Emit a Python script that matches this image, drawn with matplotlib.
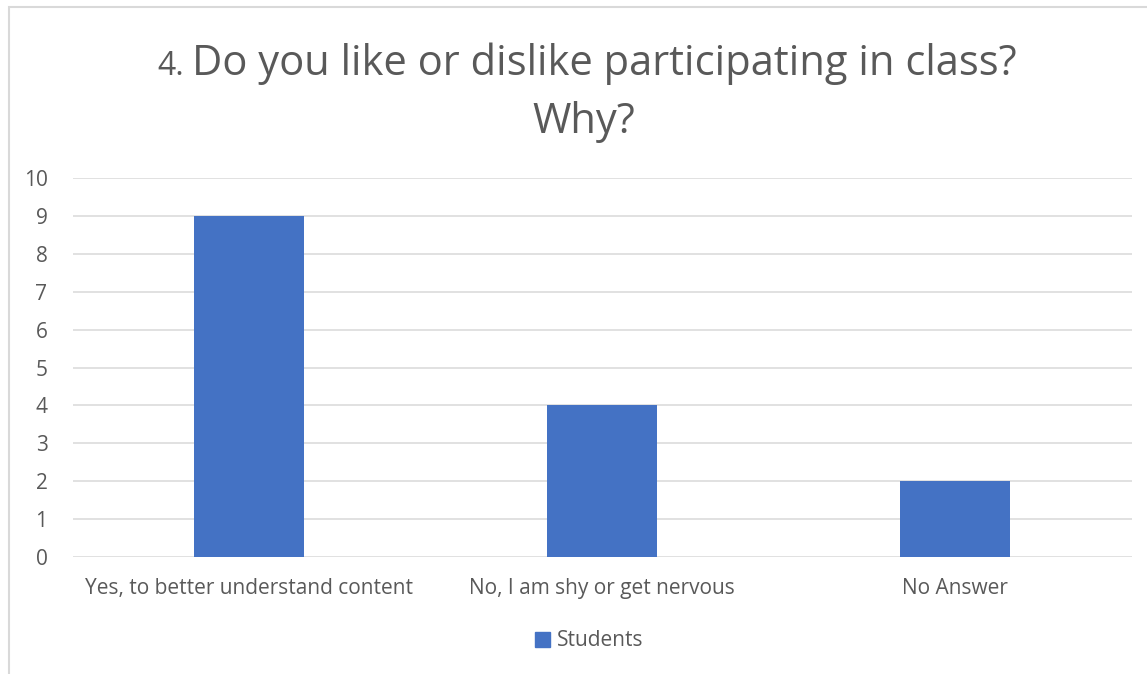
import matplotlib
matplotlib.use('Agg')
from matplotlib import pyplot as plt
from matplotlib.patches import Rectangle, Patch

plt.rcParams['font.family'] = ['Open Sans', 'DejaVu Sans']

# Survey answers: Do you like or dislike participating in class?
categories = ['Yes, to better understand content', 'No, I am shy or get nervous', 'No Answer']
students = [9, 4, 2]
y_ticks = [0, 1, 2, 3, 4, 5, 6, 7, 8, 9, 10]

W, H = 1147, 674
text_col = '#595959'
grid_col = '#D9D9D9'
bar_col = '#4472C4'

fig = plt.figure(figsize=(W / 100, H / 100), dpi=100)

# light border around chart area (starts a bit in from left/top)
fig.patches.append(Rectangle((9 / W, -0.01), 1.02, 1 - 7 / H + 0.01, transform=fig.transFigure,
                             fill=False, edgecolor=grid_col, linewidth=1.5))

ax = fig.add_axes([72.5 / W, (H - 557) / H, (1131.5 - 72.5) / W, (557 - 178) / H])
x = range(len(categories))
ax.bar(x, students, width=0.31, color=bar_col, zorder=3)
ax.set_xlim(-0.5, len(categories) - 0.5)
ax.set_ylim(0, 10)
ax.set_yticks(y_ticks)
ax.set_xticks(list(x))
ax.set_xticklabels(categories)
ax.yaxis.grid(True, color=grid_col, linewidth=1.1, zorder=0)
for s in ax.spines.values():
    s.set_visible(False)
ax.tick_params(axis='both', length=0, labelsize=15, labelcolor=text_col)
ax.tick_params(axis='y', pad=18)
ax.tick_params(axis='x', pad=15)

# Title: small "4." followed by large question
main = fig.text(604 / W, 1 - 75 / H, 'Do you like or dislike participating in class?',
                ha='center', va='baseline', fontsize=30, color=text_col)
fig.canvas.draw()
bb = main.get_window_extent()
fig.text((bb.x0 - 8) / W, 1 - 75 / H, '4.', ha='right', va='baseline',
         fontsize=23, color=text_col)
fig.text(584 / W, 1 - 133 / H, 'Why?', ha='center', va='baseline', fontsize=30, color=text_col)

fig.legend(handles=[Patch(color=bar_col, label='Students')], loc='center',
           bbox_to_anchor=(589 / W, 1 - 641 / H), frameon=False, fontsize=15,
           labelcolor=text_col, handlelength=0.75, handleheight=0.75, handletextpad=0.3)

fig.savefig('out.png', dpi=100)
